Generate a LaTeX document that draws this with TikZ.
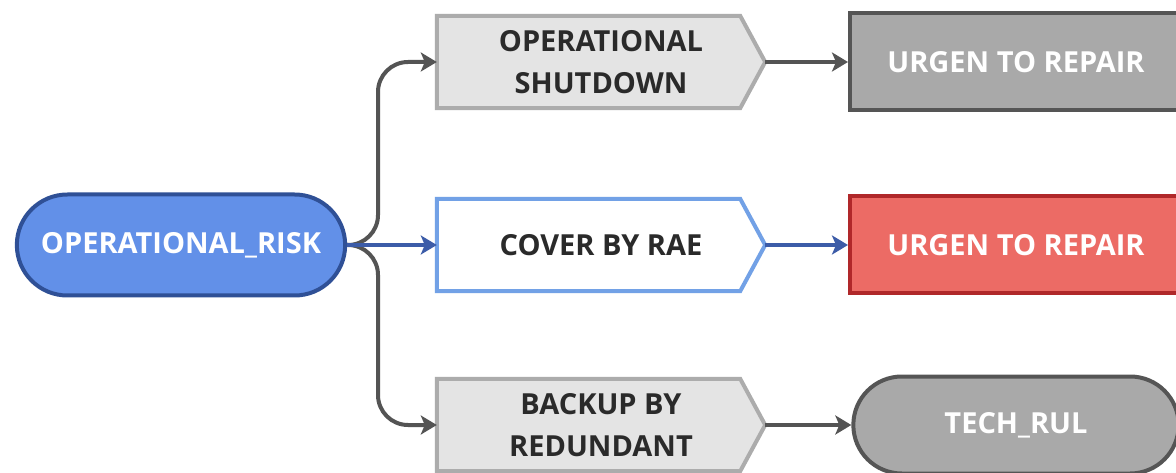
\documentclass[tikz,border=0pt]{standalone}
\usepackage{fontspec}
\setmainfont{Open Sans}
\usetikzlibrary{shapes.misc,arrows.meta,backgrounds}

\definecolor{riskfill}{HTML}{6290E8}
\definecolor{riskline}{HTML}{2F5096}
\definecolor{riskarrow}{HTML}{3C5CA8}
\definecolor{coverline}{HTML}{72A1E6}
\definecolor{stepfill}{HTML}{E4E4E4}
\definecolor{stepline}{HTML}{ACACAC}
\definecolor{stepink}{HTML}{2A2A2A}
\definecolor{greyfill}{HTML}{A9A9A9}
\definecolor{greyline}{HTML}{555555}
\definecolor{redfill}{HTML}{EC6B65}
\definecolor{redline}{HTML}{B0282A}
\definecolor{wireline}{HTML}{545454}

\tikzset{
  label font/.style={font=\fontsize{29}{42}\selectfont\bfseries},
  riskbox/.style={rounded rectangle, draw=riskline, fill=riskfill, line width=4pt,
    minimum width=335pt, minimum height=101pt, text=white, label font},
  stepbox/.style={minimum width=328pt, minimum height=92pt, align=center,
    text=stepink, label font},
  outbox/.style={rectangle, line width=4pt, minimum width=332pt, minimum height=97pt,
    text=white, label font},
  outpill/.style={rounded rectangle, line width=4pt, minimum width=332pt,
    minimum height=97pt, text=white, label font},
  wire/.style={line width=4pt, draw=wireline, rounded corners=30pt,
    -{Stealth[length=16pt,width=19pt,inset=4pt]}},
  bluewire/.style={wire, draw=riskarrow},
}

% pentagon outline drawn behind a step node
\newcommand{\arrowshape}[3]{%
  \filldraw[fill=#2, draw=#3, line width=4pt, line join=miter]
    (#1.north west) -- ([xshift=-25pt]#1.north east) -- (#1.east)
    -- ([xshift=-25pt]#1.south east) -- (#1.south west) -- cycle;}

\begin{document}
\begin{tikzpicture}[x=1pt,y=-1pt]
\useasboundingbox (0,0) rectangle (1176,473);
\clip (0,0) rectangle (1176,473);

% source
\node[riskbox] (risk) at (181,245) {OPERATIONAL\_RISK};

% middle column
\node[stepbox] (shut) at (601,62) {OPERATIONAL\\SHUTDOWN};
\node[stepbox] (cover) at (601,245) {COVER BY RAE};
\node[stepbox] (backup) at (601,425) {BACKUP BY\\REDUNDANT};

% outcomes
\node[outbox, draw=greyline, fill=greyfill] (repairA) at (1016,62) {URGEN TO REPAIR};
\node[outbox, draw=redline, fill=redfill] (repairB) at (1016,245) {URGEN TO REPAIR};
\node[outpill, draw=greyline, fill=greyfill] (rul) at (1016,425) {TECH\_RUL};

\begin{scope}[on background layer]
  \fill[white] (0,0) rectangle (1176,473);
  \arrowshape{shut}{stepfill}{stepline}
  \arrowshape{cover}{white}{coverline}
  \arrowshape{backup}{stepfill}{stepline}
\end{scope}

% branches from the source
\coordinate (fork) at (378,245);
\draw[wire] (risk.east) -- (fork) |- (shut.west);
\draw[wire] (risk.east) -- (fork) |- (backup.west);
\draw[bluewire] (risk.east) -- (cover.west);

% steps to outcomes
\draw[wire] (shut.east) -- (repairA.west);
\draw[bluewire] (cover.east) -- (repairB.west);
\draw[wire] (backup.east) -- (rul.west);
\end{tikzpicture}
\end{document}
